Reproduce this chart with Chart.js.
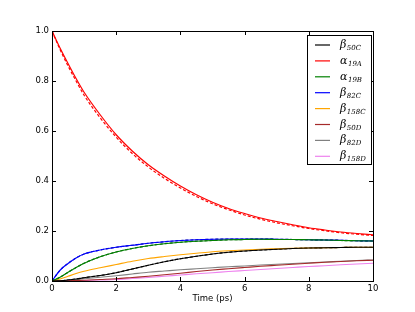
<!DOCTYPE html>
<html>
<head>
<meta charset="utf-8">
<style>
  html, body { margin: 0; padding: 0; background: #fff; }
  #wrap { width: 415px; height: 312px; }
</style>
<script src="https://cdn.jsdelivr.net/npm/chart.js@4.4.0/dist/chart.umd.min.js"></script>
</head>
<body>
<div id="wrap"><canvas id="mychart"></canvas></div>
<script>
// time points (ps)
const times = [0, 0.25, 0.5, 0.75, 1, 1.5, 2, 2.5, 3, 3.5, 4, 4.5, 5, 5.5, 6, 6.5, 7, 7.5, 8, 8.5, 9, 9.5, 10];

// populations
const b50C  = [0, 0.001, 0.004, 0.008, 0.013, 0.022, 0.033, 0.048, 0.063, 0.077, 0.089, 0.099, 0.108, 0.115, 0.12, 0.124, 0.127, 0.13, 0.132, 0.133, 0.134, 0.135, 0.135];
const a19A  = [1.0, 0.932, 0.87, 0.81, 0.755, 0.665, 0.585, 0.52, 0.465, 0.42, 0.38, 0.345, 0.315, 0.29, 0.27, 0.252, 0.238, 0.225, 0.213, 0.204, 0.196, 0.19, 0.185];
const a19Asim = [1.0, 0.926, 0.86, 0.8, 0.743, 0.653, 0.575, 0.51, 0.456, 0.411, 0.372, 0.338, 0.309, 0.285, 0.264, 0.247, 0.233, 0.221, 0.21, 0.201, 0.193, 0.187, 0.182];
const a19B  = [0, 0.015, 0.035, 0.054, 0.071, 0.097, 0.116, 0.13, 0.141, 0.149, 0.155, 0.159, 0.162, 0.165, 0.166, 0.167, 0.166, 0.166, 0.165, 0.164, 0.162, 0.161, 0.16];
const b82C  = [0, 0.043, 0.07, 0.092, 0.108, 0.124, 0.135, 0.143, 0.151, 0.157, 0.162, 0.165, 0.167, 0.168, 0.168, 0.168, 0.167, 0.166, 0.165, 0.164, 0.163, 0.161, 0.16];
const b158C = [0, 0.008, 0.019, 0.03, 0.039, 0.053, 0.066, 0.079, 0.09, 0.098, 0.105, 0.111, 0.117, 0.121, 0.124, 0.127, 0.129, 0.131, 0.132, 0.133, 0.134, 0.135, 0.135];
const b50D  = [0, 0, 0.001, 0.002, 0.003, 0.006, 0.009, 0.014, 0.019, 0.025, 0.031, 0.038, 0.044, 0.049, 0.054, 0.059, 0.063, 0.067, 0.071, 0.075, 0.078, 0.081, 0.083];
const b82D  = [0, 0.001, 0.003, 0.006, 0.009, 0.015, 0.021, 0.028, 0.035, 0.04, 0.045, 0.049, 0.053, 0.057, 0.06, 0.064, 0.067, 0.07, 0.073, 0.076, 0.079, 0.082, 0.084];
const b158D = [0, 0, 0.001, 0.001, 0.002, 0.004, 0.006, 0.01, 0.014, 0.019, 0.024, 0.029, 0.033, 0.038, 0.042, 0.046, 0.05, 0.054, 0.058, 0.061, 0.065, 0.068, 0.071];

const names  = ['β50C', 'α19A', 'α19B', 'β82C', 'β158C', 'β50D', 'β82D', 'β158D'];
const colors = ['#000000', '#ff0000', '#008000', '#0000ff', '#ffa500', '#a52a2a', '#808080', '#ee82ee'];
const series = [b50C, a19A, a19B, b82C, b158C, b50D, b82D, b158D];

const xTicks = [0, 2, 4, 6, 8, 10];
const yTicks = [0, 0.2, 0.4, 0.6, 0.8, 1.0];

function pts(arr) {
    return arr.map(function (v, i) { return {x: times[i], y: v}; });
}

let datasets = [];
for (let i in series) {
    datasets.push({
        label: names[i],
        data: pts(series[i]),
        borderColor: colors[i],
        borderWidth: 1.2,
        pointRadius: 0,
        cubicInterpolationMode: 'monotone'
    });
}
// dashed simulation curves on top
let dashed = [[a19Asim, '#ff0000'], [b50C, '#000000'], [a19B, '#006400'], [b82C, '#000099']];
for (let d of dashed) {
    datasets.push({
        label: '',
        data: pts(d[0]),
        borderColor: d[1],
        borderWidth: 1.2,
        borderDash: [3, 2],
        pointRadius: 0,
        cubicInterpolationMode: 'monotone'
    });
}

// box around plot with inward ticks on all four sides, plus legend
const frame = {
    id: 'frame',
    afterDraw(chart) {
        const c = chart.ctx, a = chart.chartArea;
        const sx = chart.scales.x, sy = chart.scales.y;
        c.save();
        c.strokeStyle = '#000';
        c.lineWidth = 1;
        c.strokeRect(Math.round(a.left) + 0.5, Math.round(a.top) + 0.5, Math.round(a.right - a.left), Math.round(a.bottom - a.top));
        c.beginPath();
        for (let t of xTicks) {
            let px = Math.round(sx.getPixelForValue(t)) + 0.5;
            c.moveTo(px, a.bottom); c.lineTo(px, a.bottom - 4);
            c.moveTo(px, a.top); c.lineTo(px, a.top + 4);
        }
        for (let t of yTicks) {
            let py = Math.round(sy.getPixelForValue(t)) + 0.5;
            c.moveTo(a.left, py); c.lineTo(a.left + 4, py);
            c.moveTo(a.right, py); c.lineTo(a.right - 4, py);
        }
        c.stroke();

        // legend
        const L = 307, T = 35, W = 64, H = 129;
        c.fillStyle = '#fff';
        c.fillRect(L, T, W, H);
        c.strokeRect(L + 0.5, T + 0.5, W, H);
        for (let i = 0; i < names.length; i++) {
            let y = 45 + i * 15.9;
            c.strokeStyle = colors[i];
            c.lineWidth = 1.2;
            c.beginPath();
            c.moveTo(315, y); c.lineTo(330, y);
            c.stroke();
            c.fillStyle = '#000';
            c.textBaseline = 'alphabetic';
            c.font = 'italic 11px "DejaVu Serif"';
            c.fillText(names[i][0], 340, y + 3);
            let w = c.measureText(names[i][0]).width;
            c.font = 'italic 7px "DejaVu Serif"';
            c.fillText(names[i].slice(1), 340 + w + 0.5, y + 5);
        }
        c.restore();
    }
};

let ctx = document.getElementById('mychart');
let myChart = new Chart(ctx, {
    type: 'line',
    data: { datasets: datasets },
    options: {
        responsive: true,
        maintainAspectRatio: false,
        animation: false,
        layout: { padding: { top: 31, right: 42, left: 0, bottom: 0 } },
        plugins: { legend: { display: false }, tooltip: { enabled: false } },
        scales: {
            x: {
                type: 'linear', min: 0, max: 10,
                afterFit: function (s) { s.height = 31; },
                afterBuildTicks: function (s) { s.ticks = xTicks.map(v => ({value: v})); },
                ticks: { color: '#000', padding: 3, maxRotation: 0, font: { family: 'DejaVu Sans', size: 8.5 } },
                grid: { drawOnChartArea: false, drawTicks: false },
                border: { display: false },
                title: { display: true, text: 'Time (ps)', color: '#000', font: { family: 'DejaVu Sans', size: 8.5 }, padding: { top: 2, bottom: 8 } }
            },
            y: {
                type: 'linear', min: 0, max: 1,
                afterFit: function (s) { s.width = 52; },
                afterBuildTicks: function (s) { s.ticks = yTicks.map(v => ({value: v})); },
                ticks: { color: '#000', padding: 3, font: { family: 'DejaVu Sans', size: 8.5 }, callback: v => v.toFixed(1) },
                grid: { drawOnChartArea: false, drawTicks: false },
                border: { display: false }
            }
        }
    },
    plugins: [frame]
});
</script>
</body>
</html>
